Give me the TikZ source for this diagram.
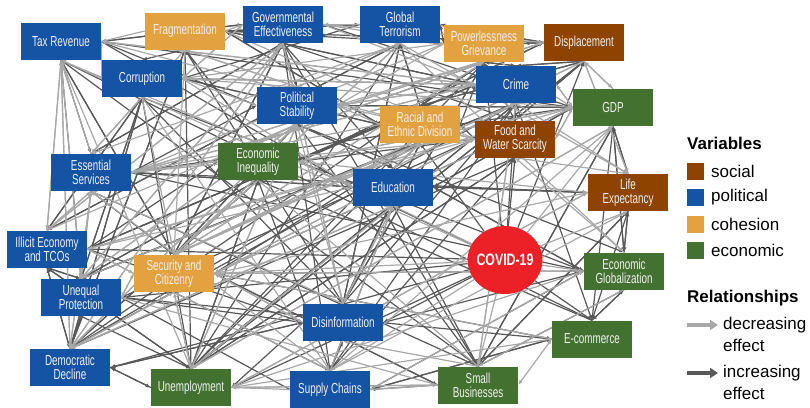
\documentclass[tikz,border=0pt]{standalone}
\usepackage{fontspec}
\setmainfont{Liberation Sans}
\newfontfamily\condfont{Liberation Sans}[FakeStretch=0.68]
\usetikzlibrary{arrows.meta,backgrounds}
\definecolor{polblue}{HTML}{1553A5}
\definecolor{cohorange}{HTML}{E1A23F}
\definecolor{socbrown}{HTML}{8E4300}
\definecolor{ecogreen}{HTML}{437230}
\definecolor{covred}{HTML}{EC2027}
\definecolor{decgray}{HTML}{A8A8A8}
\definecolor{incgray}{HTML}{585858}
\tikzset{
  box/.style={minimum width=80pt,minimum height=37pt,inner sep=0pt,align=center,
    text=white!94!black,font=\condfont\fontsize{14.5}{14}\selectfont},
  pol/.style={box,fill=polblue},
  coh/.style={box,fill=cohorange},
  soc/.style={box,fill=socbrown},
  eco/.style={box,fill=ecogreen},
  inc/.style={draw=incgray,line width=1.2pt,-{Latex[length=5pt,width=4pt]}},
  dec/.style={draw=decgray,line width=1.2pt,-{Latex[length=5pt,width=4pt]}},
  legsq/.style={minimum size=17pt,inner sep=0pt},
  legtxt/.style={anchor=west,inner sep=0pt,font=\fontsize{17}{22}\selectfont,align=left},
  legarrow/.style={line width=3.5pt,-{Triangle[length=8pt,width=10pt]}}
}
% edge from border point facing the other node
\newcommand{\lnk}[3]{%
  \pgfpointdiff{\pgfpointanchor{#2}{center}}{\pgfpointanchor{#3}{center}}%
  \pgfgetlastxy{\lnkdx}{\lnkdy}%
  \pgfmathtruncatemacro{\lnkdir}{abs(\lnkdy)>0.46*abs(\lnkdx) ? (\lnkdy>0 ? 1 : 2) : (\lnkdx>0 ? 3 : 4)}%
  \ifcase\lnkdir\or
    \def\lnka{.north}\def\lnkb{.south}\or
    \def\lnka{.south}\def\lnkb{.north}\or
    \def\lnka{.east}\def\lnkb{.west}\or
    \def\lnka{.west}\def\lnkb{.east}\fi
  \edef\lnkarg{#2}\def\lnkcov{covid}%
  \ifx\lnkarg\lnkcov\def\lnka{}\fi
  \draw[#1] (#2\lnka) -- (#3\lnkb);}
\begin{document}
\begin{tikzpicture}[x=1pt,y=-1pt]
  \useasboundingbox (0,0) rectangle (810,407);
  % variables
  \node[pol] (tax) at (61,41.5) {Tax Revenue};
  \node[coh] (frag) at (185,31) {Fragmentation};
  \node[pol] (gov) at (283,24.5) {Governmental\\Effectiveness};
  \node[pol] (terr) at (400,24.5) {Global\\Terrorism};
  \node[coh] (pow) at (484,43.5) {Powerlessness\\Grievance};
  \node[soc] (disp) at (584,42.5) {Displacement};
  \node[pol] (corr) at (142,78.5) {Corruption};
  \node[pol] (crime) at (516,84.5) {Crime};
  \node[pol] (pol) at (297,105.5) {Political\\Stability};
  \node[eco] (gdp) at (613,107.5) {GDP};
  \node[coh] (race) at (420,124.5) {Racial and\\Ethnic Division};
  \node[soc] (food) at (515,139) {Food and\\Water Scarcity};
  \node[eco] (ineq) at (258,161.5) {Economic\\Inequality};
  \node[pol] (ess) at (91,172.5) {Essential\\Services};
  \node[pol] (edu) at (393,187) {Education};
  \node[soc] (life) at (628,192.5) {Life\\Expectancy};
  \node[pol] (illi) at (47,249) {Illicit Economy\\and TCOs};
  \node[coh] (sec) at (174,273.5) {Security and\\Citizenry};
  \node[eco] (glob) at (624,271) {Economic\\Globalization};
  \node[pol] (uneq) at (81,297.5) {Unequal\\Protection};
  \node[pol] (dis) at (343,322.5) {Disinformation};
  \node[eco] (ecom) at (592,339) {E-commerce};
  \node[pol] (dem) at (70,367.5) {Democratic\\Decline};
  \node[eco] (unemp) at (191,387.5) {Unemployment};
  \node[pol] (sup) at (330,389.5) {Supply Chains};
  \node[eco] (small) at (478,385) {Small\\Businesses};
  \node[circle,fill=covred,minimum size=68pt,inner sep=0pt,xscale=1.1,text=white,
    font=\condfont\fontsize{16.5}{17}\selectfont\bfseries] (covid) at (505,260) {COVID-19};
  % relationships
  \begin{pgfonlayer}{background}
    \foreach \a/\b in {covid/unemp,covid/dis,covid/ecom,covid/food,covid/crime,covid/ineq,
      covid/illi,covid/pow,covid/race,covid/dem,covid/uneq,covid/disp,
      tax/ess,tax/sec,tax/uneq,tax/edu,tax/gov,tax/pol,
      frag/corr,frag/terr,frag/crime,frag/ineq,frag/dem,frag/unemp,frag/race,
      gov/tax,gov/pol,gov/ess,gov/sec,gov/edu,gov/gdp,gov/sup,gov/small,gov/food,
      terr/disp,terr/frag,terr/pow,terr/dis,terr/race,terr/illi,terr/corr,terr/unemp,
      pow/terr,pow/frag,pow/crime,pow/race,pow/dis,pow/disp,pow/dem,
      disp/pow,disp/frag,disp/crime,disp/food,disp/terr,disp/unemp,disp/race,disp/ineq,
      corr/illi,corr/uneq,corr/dem,corr/ineq,corr/crime,corr/unemp,corr/dis,corr/race,
      crime/disp,crime/pow,crime/ecom,crime/illi,crime/frag,crime/unemp,crime/uneq,
      pol/gdp,pol/gov,pol/sec,pol/glob,pol/edu,pol/small,
      gdp/life,gdp/tax,gdp/ess,gdp/glob,gdp/edu,gdp/pol,gdp/small,
      race/frag,race/pow,race/terr,race/ineq,race/dis,race/uneq,race/crime,race/disp,race/dem,race/corr,
      food/disp,food/crime,food/pow,food/ineq,food/race,food/unemp,food/dem,
      ineq/crime,ineq/pow,ineq/uneq,ineq/dem,ineq/frag,ineq/unemp,ineq/disp,
      ess/life,ess/edu,ess/pol,ess/sec,ess/gov,ess/glob,
      edu/gdp,edu/life,edu/sec,edu/pol,edu/glob,edu/small,edu/ess,edu/sup,
      life/glob,life/gdp,life/ecom,life/small,life/edu,
      illi/uneq,illi/crime,illi/corr,illi/dem,illi/terr,illi/unemp,illi/ineq,illi/dis,illi/race,
      sec/pol,sec/gdp,sec/small,sec/gov,sec/sup,sec/tax,sec/glob,sec/ecom,
      glob/ecom,glob/gdp,glob/sup,glob/ineq,glob/dis,glob/life,glob/edu,
      uneq/dem,uneq/corr,uneq/ineq,uneq/crime,uneq/illi,uneq/unemp,uneq/dis,uneq/food,
      dis/race,dis/dem,dis/pow,dis/frag,dis/terr,dis/unemp,dis/crime,
      ecom/sup,ecom/glob,ecom/gdp,ecom/tax,ecom/ineq,ecom/uneq,
      dem/uneq,dem/corr,dem/dis,dem/illi,dem/frag,dem/unemp,dem/ineq,dem/crime,
      unemp/crime,unemp/ineq,unemp/pow,unemp/illi,unemp/dem,unemp/disp,unemp/food,unemp/race,
      sup/food,sup/ecom,sup/dis,sup/crime,sup/ineq,sup/uneq,
      small/gdp,small/tax,small/sup,small/glob,small/life,small/sec,small/ess}
      {\lnk{inc}{\a}{\b}}
    \foreach \a/\b in {covid/glob,covid/life,covid/gdp,covid/small,covid/sup,covid/edu,covid/sec,covid/tax,
      tax/illi,tax/dem,tax/crime,
      frag/tax,frag/gov,frag/pol,frag/ess,frag/sec,frag/food,
      gov/corr,gov/illi,gov/crime,gov/dis,gov/uneq,gov/dem,gov/disp,
      terr/gov,terr/pol,terr/sec,terr/gdp,terr/glob,terr/life,terr/ess,
      pow/pol,pow/gov,pow/sec,pow/ineq,
      disp/gdp,disp/life,disp/ess,disp/sec,
      corr/tax,corr/gov,corr/pol,corr/ess,corr/sec,corr/gdp,corr/sup,corr/edu,corr/pow,
      crime/gdp,crime/pol,crime/sec,crime/small,crime/life,crime/ess,crime/tax,crime/corr,
      pol/uneq,pol/frag,pol/ineq,pol/dem,pol/crime,pol/terr,pol/disp,pol/unemp,
      gdp/food,gdp/disp,gdp/unemp,gdp/ineq,gdp/crime,gdp/sec,
      race/pol,race/sec,race/ess,
      food/life,food/gdp,food/pol,food/sec,food/tax,food/ess,
      ineq/pol,ineq/edu,ineq/ess,ineq/life,ineq/sec,ineq/gdp,ineq/tax,
      ess/ineq,ess/uneq,ess/illi,ess/dem,ess/tax,ess/crime,ess/pow,ess/disp,
      edu/unemp,edu/ineq,edu/dis,edu/crime,edu/dem,edu/race,edu/illi,
      life/unemp,life/disp,life/sec,
      illi/tax,illi/sec,illi/gov,illi/pol,illi/ess,illi/gdp,illi/food,
      sec/crime,sec/illi,sec/uneq,sec/dem,sec/disp,sec/terr,sec/ineq,sec/dis,sec/unemp,sec/race,sec/pow,sec/food,
      glob/small,glob/unemp,glob/food,glob/sec,
      uneq/sec,uneq/pol,uneq/ess,uneq/tax,uneq/race,uneq/gov,
      dis/pol,dis/sec,dis/gov,dis/edu,dis/ess,
      ecom/unemp,ecom/sec,
      dem/gov,dem/pol,dem/sec,dem/ess,dem/tax,dem/edu,
      unemp/gdp,unemp/tax,unemp/pol,unemp/life,unemp/sec,unemp/small,unemp/edu,
      sup/unemp,sup/gdp,sup/small,sup/glob,sup/life,sup/ess,sup/edu,sup/sec,
      small/unemp,small/ineq,small/crime,small/dis,small/uneq}
      {\lnk{dec}{\a}{\b}}
    \draw[dec,{Latex[length=5pt,width=4pt]}-{Latex[length=5pt,width=4pt]}] (small.east) -- (ecom.west);
  \end{pgfonlayer}
  % legend
  \node[anchor=west,inner sep=0pt,font=\fontsize{17}{20}\selectfont\bfseries] (vartitle) at (687,143) {Variables};
  \foreach \y/\c/\t [count=\i] in {171.5/socbrown/social,197.5/polblue/political,
      224.5/cohorange/cohesion,250.5/ecogreen/economic}
    {\node[legsq,fill=\c] (sq\i) at (695.5,\y) {};
     \node[legtxt] (lt\i) at (711,\y) {\t};}
  \node[anchor=west,inner sep=0pt,font=\fontsize{17}{20}\selectfont\bfseries] (reltitle) at (687,298) {Relationships};
  \node[legtxt,anchor=north west] (dectxt) at (723,317) {decreasing\\effect};
  \node[legtxt,anchor=north west] (inctxt) at (723,365) {increasing\\effect};
  \coordinate (decstart) at (687,325);
  \coordinate (incstart) at (687,373);
  \draw[legarrow,draw=decgray] (decstart) -- ++(31,0);
  \draw[legarrow,draw=incgray] (incstart) -- ++(31,0);
\end{tikzpicture}
\end{document}
